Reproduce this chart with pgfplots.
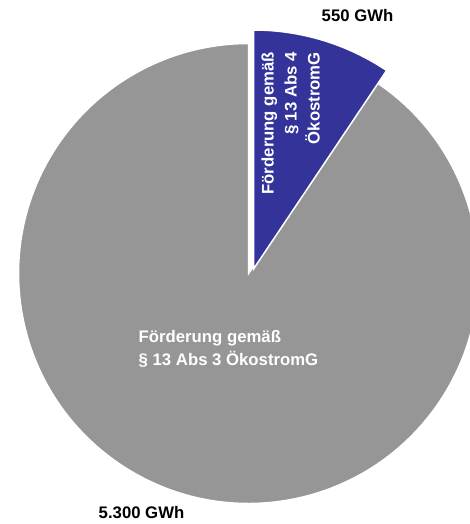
\documentclass[border=0pt]{standalone}
\usepackage{pgfplots}
\usepackage{pgfplotstable}
\pgfplotsset{compat=1.18}
\usepackage{fontspec}
\setmainfont{Liberation Sans}
\definecolor{greyc}{RGB}{150,150,150}
\definecolor{bluec}{RGB}{51,51,153}
\pgfplotstableread{
label value
Abs4 550
Abs3 5300
}\datatable
\begin{document}
\pgfplotstablegetelem{0}{value}\of\datatable \let\va\pgfplotsretval
\pgfplotstablegetelem{1}{value}\of\datatable \let\vb\pgfplotsretval
\pgfmathsetmacro\fracA{\va/(\va+\vb)}
\pgfmathsetmacro\angA{90-360*\fracA}
\begin{tikzpicture}
\begin{axis}[
  scale only axis, width=464bp, height=524bp,
  xmin=0, xmax=464, ymin=0, ymax=524,
  hide axis, clip=false,
]
\coordinate (BL) at (axis cs:0,0);
\coordinate (TR) at (axis cs:464,524);
% grey slice (5300 GWh)
\fill[greyc, draw=white, line width=1.5bp] (axis cs:243,250.5) -- ++(\angA:230bp)
  arc[start angle=\angA, end angle=-270, radius=230bp] -- cycle;
% blue exploded slice (550 GWh)
\fill[bluec, draw=white, line width=1.5bp] (axis cs:248,255) -- ++(90:239bp)
  arc[start angle=90, end angle=\angA, radius=239bp] -- cycle;
\begin{scope}[every node/.style={font=\fontsize{16.8}{20}\selectfont\bfseries, inner sep=0pt}]
\node[anchor=base west, text=black] at (axis cs:316,502) {550 GWh};
\node[anchor=base west, text=black] at (axis cs:93,5) {5.300 GWh};
\node[anchor=base west, text=white] at (axis cs:133,181) {Förderung gemäß};
\node[anchor=base west, text=white] at (axis cs:133,158) {§ 13 Abs 3 ÖkostromG};
\node[anchor=base east, rotate=90, text=white] at (axis cs:268,472) {Förderung gemäß};
\node[anchor=base east, rotate=90, text=white] at (axis cs:291,472) {§ 13 Abs 4};
\node[anchor=base east, rotate=90, text=white] at (axis cs:314,472) {ÖkostromG};
\end{scope}
\end{axis}
\pgfresetboundingbox
\path[use as bounding box] (BL) rectangle (TR);
\end{tikzpicture}
\end{document}
